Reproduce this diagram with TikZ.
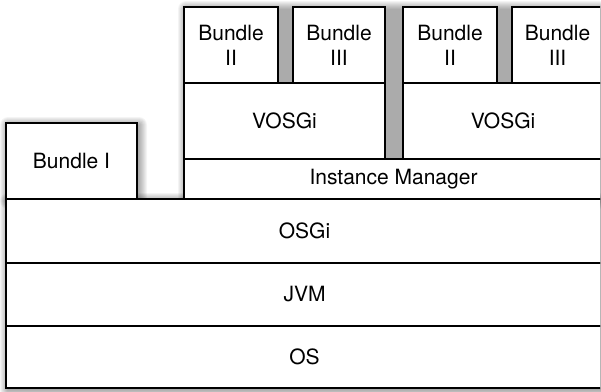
\documentclass[tikz,border=0pt]{standalone}
\usepackage{fontspec}
\setmainfont{TeX Gyre Heros}
\usetikzlibrary{positioning,backgrounds}

\begin{document}
\begin{tikzpicture}[x=1pt,y=-1pt,node distance=0pt]
  \tikzstyle{layer}=[rectangle,draw=black,fill=white,line width=1.6pt,outer sep=0pt,
    inner sep=0pt,align=center,font=\fontsize{21}{25}\selectfont]
  \tikzstyle{bundlebox}=[layer,minimum height=76pt]
  \tikzstyle{boxshadow}=[fill=black,fill opacity=0.045,draw=none]

  \useasboundingbox (0,0) rectangle (601,391);
  \clip (0,0) rectangle (600,391);

    % platform stack
    \node [layer,minimum width=597pt,minimum height=62pt,anchor=north west] (os) at (6,326) {OS};
    \node [layer,minimum width=597pt,minimum height=63pt] (jvm) [above=of os] {JVM};
    \node [layer,minimum width=597pt,minimum height=64pt] (osgi) [above=of jvm] {OSGi};
    \node [bundlebox,minimum width=131pt] (bi) [above right=0pt and 0pt of osgi.north west] {Bundle I};

    % virtual instances
    \node [layer,minimum width=419pt,minimum height=40pt,anchor=south west] (im) at (184,199) {Instance Manager};
    \node [bundlebox,minimum width=201pt] (vl) [above right=0pt and 0pt of im.north west] {VOSGi};
    \node [bundlebox,minimum width=200pt] (vr) [above left=0pt and 0pt of im.north east] {VOSGi};
    \node [bundlebox,minimum width=94pt] (bil) [above right=0pt and 0pt of vl.north west] {Bundle\\II};
    \node [bundlebox,minimum width=92pt] (biiil) [above left=0pt and 0pt of vl.north east] {Bundle\\III};
    \node [bundlebox,minimum width=94pt] (bir) [above right=0pt and 0pt of vr.north west] {Bundle\\II};
    \node [bundlebox,minimum width=91pt] (biiir) [above left=0pt and 0pt of vr.north east] {Bundle\\III};

    % soft shadows
    \begin{scope}[on background layer]
      \foreach \a/\b in {os/osgi,bi/bi,im/biiir}
        \foreach \r in {0,...,8}
          \path [boxshadow,rounded corners=\r pt]
            ([shift={(2-\r,2+\r)}]\a.south west) rectangle ([shift={(2+\r,2-\r)}]\b.north east);
    \end{scope}
\end{tikzpicture}
\end{document}
